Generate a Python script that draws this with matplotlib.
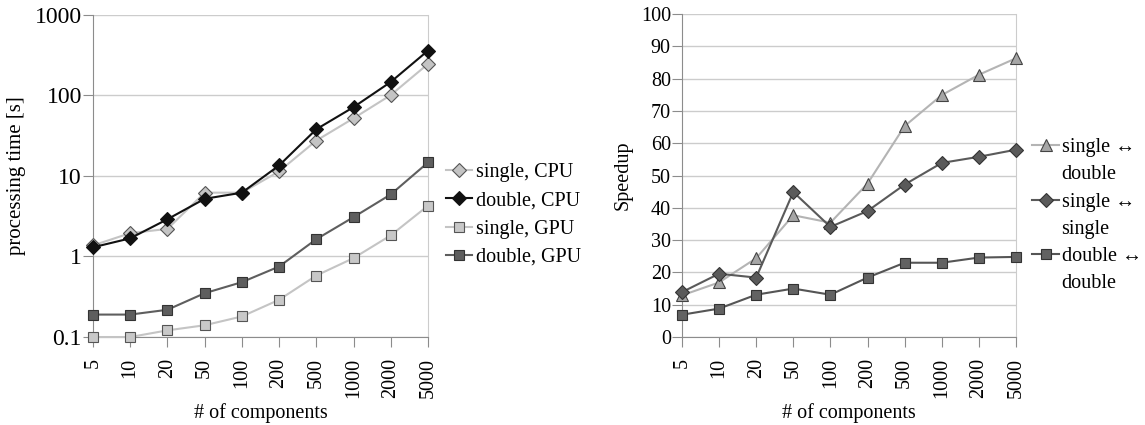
import matplotlib
matplotlib.use('Agg')
import matplotlib.pyplot as plt
from matplotlib.lines import Line2D

plt.rcParams['font.family'] = 'serif'
plt.rcParams['font.serif'] = ['Liberation Serif']

components = ['5', '10', '20', '50', '100', '200', '500', '1000', '2000', '5000']

# processing time [s]
single_cpu = [1.37, 1.95, 2.2, 6.2, 6.2, 11.4, 27.5, 52, 101, 246]
double_cpu = [1.30, 1.68, 2.9, 5.2, 6.2, 13.5, 38, 71.5, 147, 360]
single_gpu = [0.10, 0.10, 0.121, 0.14, 0.18, 0.29, 0.58, 0.955, 1.83, 4.27]
double_gpu = [0.19, 0.19, 0.218, 0.35, 0.48, 0.75, 1.64, 3.08, 5.9, 14.7]

# speedup
sp_single_double = [12.9, 16.9, 24.4, 37.7, 35.4, 47.5, 65.3, 74.9, 81.2, 86.3]
sp_single_single = [13.9, 19.6, 18.4, 44.9, 34.1, 39.0, 47.2, 53.9, 55.8, 58.0]
sp_double_double = [6.9, 8.8, 13.1, 15.0, 13.1, 18.4, 23.0, 23.0, 24.6, 24.8]

fs = 14.5
grid_c = '#cccccc'
spine_c = '#8c8c8c'

fig = plt.figure(figsize=(11.45, 4.25), dpi=100)
ax1 = fig.add_axes([0.0812, 0.207, 0.2926, 0.758])
ax2 = fig.add_axes([0.5956, 0.207, 0.2917, 0.76])

x = list(range(len(components)))


def style(ax):
    ax.set_xlim(0, len(components) - 1)
    ax.set_xticks(x)
    ax.set_xticklabels(components, rotation=90, fontsize=fs)
    ax.tick_params(axis='x', length=7, color=spine_c, pad=8)
    ax.tick_params(axis='y', length=7, color=spine_c, pad=1)
    ax.grid(axis='y', color=grid_c, linewidth=1)
    ax.set_axisbelow(True)
    ax.spines['top'].set_visible(False)
    ax.spines['right'].set_color(grid_c)
    ax.spines['left'].set_color(spine_c)
    ax.spines['bottom'].set_color(spine_c)
    ax.set_xlabel('# of components', fontsize=fs, labelpad=4)


# left: processing time
ax1.set_yscale('log')
ax1.set_ylim(0.1, 1000)
ax1.set_yticks([0.1, 1, 10, 100, 1000])
ax1.set_yticklabels(['0.1', '1', '10', '100', '1000'], fontsize=17)
ax1.minorticks_off()
style(ax1)
ax1.set_ylabel('processing time [s]', fontsize=15, labelpad=6)

ms = 7.5
ax1.plot(x, single_cpu, color='#c4c4c4', lw=1.5, marker='D', ms=7, mfc='#c4c4c4', mec='#555555',
         mew=0.8, label='single, CPU', clip_on=False, zorder=3)
ax1.plot(x, double_cpu, color='#111111', lw=1.5, marker='D', ms=7, mfc='#111111', mec='#111111',
         mew=0.8, label='double, CPU', clip_on=False, zorder=4)
ax1.plot(x, single_gpu, color='#c4c4c4', lw=1.5, marker='s', ms=ms, mfc='#c8c8c8', mec='#555555',
         mew=0.8, label='single, GPU', clip_on=False, zorder=3)
ax1.plot(x, double_gpu, color='#5e5e5e', lw=1.5, marker='s', ms=ms, mfc='#5e5e5e', mec='#333333',
         mew=0.8, label='double, GPU', clip_on=False, zorder=3)

ax1.legend(loc='center left', bbox_to_anchor=(1.0, 0.379), frameon=False, fontsize=fs,
           handlelength=1.3, handletextpad=0.2, labelspacing=0.45)

# right: speedup
ax2.set_ylim(0, 100)
ax2.set_yticks(range(0, 101, 10))
ax2.tick_params(axis='y', labelsize=fs)
style(ax2)
ax2.set_ylabel('Speedup', fontsize=fs, labelpad=6)

h1, = ax2.plot(x, sp_single_double, color='#b4b4b4', lw=1.5, marker='^', ms=ms + 1, mfc='#a6a6a6',
               mec='#444444', mew=0.8, clip_on=False, zorder=3)
h2, = ax2.plot(x, sp_single_single, color='#5a5a5a', lw=1.5, marker='D', ms=7, mfc='#5a5a5a',
               mec='#333333', mew=0.8, clip_on=False, zorder=4)
h3, = ax2.plot(x, sp_double_double, color='#555555', lw=1.5, marker='s', ms=ms, mfc='#626262',
               mec='#333333', mew=0.8, clip_on=False, zorder=3)

blank = Line2D([], [], color='none')
ax2.legend([h1, blank, h2, blank, h3, blank],
           ['single \u2194', 'double', 'single \u2194', 'single', 'double \u2194', 'double'],
           loc='center left', bbox_to_anchor=(0.995, 0.376), frameon=False, fontsize=fs,
           handlelength=1.3, handletextpad=0.15, labelspacing=0.4)

fig.savefig('out.png', dpi=100)
